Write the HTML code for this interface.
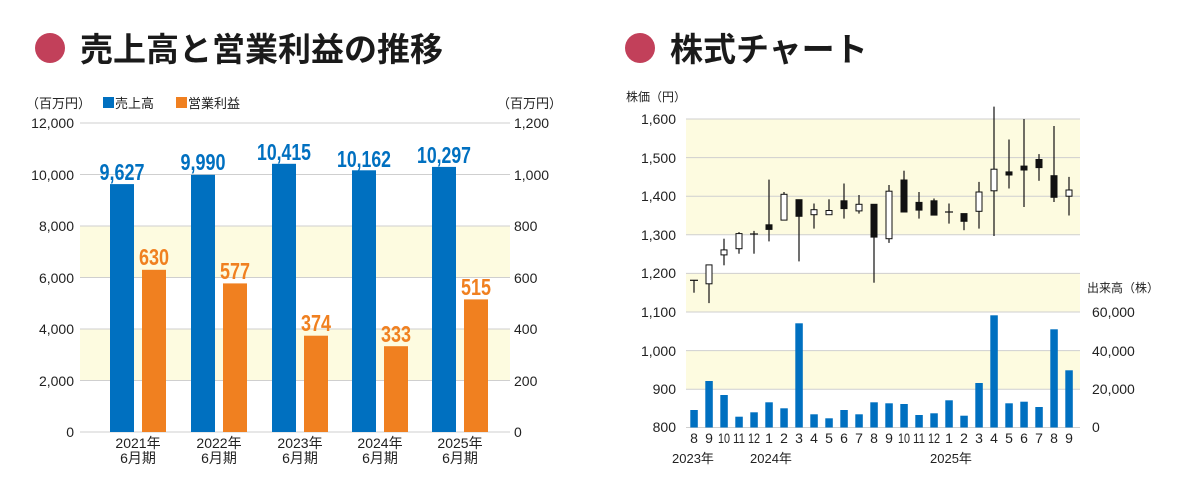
<!DOCTYPE html>
<html><head><meta charset="utf-8"><style>
html,body{margin:0;padding:0;background:#fff;}
svg{display:block;font-family:"Liberation Sans","Noto Sans CJK JP",sans-serif;}
</style></head><body>
<svg width="1200" height="498" viewBox="0 0 1200 498" xmlns="http://www.w3.org/2000/svg">
<!-- Titles -->
<circle cx="50" cy="48" r="15" fill="#c2405a"/>
<text x="80" y="61" font-size="33" font-weight="bold" fill="#1a1a1a">売上高と営業利益の推移</text>
<circle cx="640" cy="48" r="15" fill="#c2405a"/>
<text x="670" y="61" font-size="33" font-weight="bold" fill="#1a1a1a">株式チャート</text>

<!-- LEFT CHART -->
<rect x="80" y="226" width="430" height="51" fill="#fdfbe0"/>
<rect x="80" y="329" width="430" height="51" fill="#fdfbe0"/>
<g stroke="#cfcfcf" stroke-width="1">
<line x1="80" y1="123" x2="510" y2="123"/><line x1="80" y1="174.5" x2="510" y2="174.5"/>
<line x1="80" y1="226" x2="510" y2="226"/><line x1="80" y1="277.5" x2="510" y2="277.5"/>
<line x1="80" y1="329" x2="510" y2="329"/><line x1="80" y1="380.5" x2="510" y2="380.5"/>
<line x1="80" y1="432" x2="510" y2="432"/>
</g>
<g font-size="14" fill="#222" text-anchor="end">
<text x="74" y="128">12,000</text><text x="74" y="180">10,000</text><text x="74" y="231">8,000</text>
<text x="74" y="283">6,000</text><text x="74" y="334">4,000</text><text x="74" y="386">2,000</text><text x="74" y="437">0</text>
</g>
<g font-size="14" fill="#222">
<text x="514" y="128">1,200</text><text x="514" y="180">1,000</text><text x="514" y="231">800</text>
<text x="514" y="283">600</text><text x="514" y="334">400</text><text x="514" y="386">200</text><text x="514" y="437">0</text>
</g>
<g font-size="13" fill="#222">
<text x="26" y="108">（百万円）</text>
<rect x="103" y="97" width="11" height="11" fill="#0070c0"/><text x="115" y="108">売上高</text>
<rect x="176" y="97" width="11" height="11" fill="#f08020"/><text x="188" y="108">営業利益</text>
<text x="497" y="108">（百万円）</text>
</g>
<g fill="#0070c0">
<rect x="110" y="184.1" width="24" height="247.9"/><rect x="191" y="174.8" width="24" height="257.2"/>
<rect x="272" y="163.8" width="24" height="268.2"/><rect x="352" y="170.3" width="24" height="261.7"/>
<rect x="432" y="166.9" width="24" height="265.1"/>
</g>
<g fill="#f08020">
<rect x="142" y="269.8" width="24" height="162.2"/><rect x="223" y="283.4" width="24" height="148.6"/>
<rect x="304" y="335.7" width="24" height="96.3"/><rect x="384" y="346.2" width="24" height="85.8"/>
<rect x="464" y="299.4" width="24" height="132.6"/>
</g>
<g font-size="23" font-weight="bold" fill="#0070c0" text-anchor="middle">
<text x="122" y="180" textLength="45" lengthAdjust="spacingAndGlyphs">9,627</text>
<text x="203" y="170" textLength="45" lengthAdjust="spacingAndGlyphs">9,990</text>
<text x="284" y="160" textLength="54" lengthAdjust="spacingAndGlyphs">10,415</text>
<text x="364" y="167" textLength="54" lengthAdjust="spacingAndGlyphs">10,162</text>
<text x="444" y="163" textLength="54" lengthAdjust="spacingAndGlyphs">10,297</text>
</g>
<g font-size="23" font-weight="bold" fill="#f08020" text-anchor="middle">
<text x="154" y="265" textLength="30" lengthAdjust="spacingAndGlyphs">630</text>
<text x="235" y="279" textLength="30" lengthAdjust="spacingAndGlyphs">577</text>
<text x="316" y="331" textLength="30" lengthAdjust="spacingAndGlyphs">374</text>
<text x="396" y="342" textLength="30" lengthAdjust="spacingAndGlyphs">333</text>
<text x="476" y="295" textLength="30" lengthAdjust="spacingAndGlyphs">515</text>
</g>
<g font-size="14" fill="#222" text-anchor="middle">
<text x="138" y="448">2021年</text><text x="138" y="463">6月期</text>
<text x="219" y="448">2022年</text><text x="219" y="463">6月期</text>
<text x="300" y="448">2023年</text><text x="300" y="463">6月期</text>
<text x="380" y="448">2024年</text><text x="380" y="463">6月期</text>
<text x="460" y="448">2025年</text><text x="460" y="463">6月期</text>
</g>

<!-- RIGHT CHART -->
<rect x="686" y="119" width="394" height="115.8" fill="#fdfbe0"/>
<rect x="686" y="273.4" width="394" height="38.6" fill="#fdfbe0"/>
<rect x="686" y="350.6" width="394" height="38.6" fill="#fdfbe0"/>
<g stroke="#cfcfcf" stroke-width="1">
<line x1="686" y1="119" x2="1080" y2="119"/><line x1="686" y1="157.6" x2="1080" y2="157.6"/>
<line x1="686" y1="196.2" x2="1080" y2="196.2"/><line x1="686" y1="234.8" x2="1080" y2="234.8"/>
<line x1="686" y1="273.4" x2="1080" y2="273.4"/><line x1="686" y1="312" x2="1080" y2="312"/>
<line x1="686" y1="350.6" x2="1080" y2="350.6"/><line x1="686" y1="389.2" x2="1080" y2="389.2"/>
<line x1="686" y1="427.5" x2="1080" y2="427.5"/>
</g>
<text x="626" y="101" font-size="12" fill="#222">株価（円）</text>
<g font-size="14" fill="#222" text-anchor="end">
<text x="676" y="124">1,600</text><text x="676" y="163">1,500</text><text x="676" y="201">1,400</text>
<text x="676" y="240">1,300</text><text x="676" y="278">1,200</text><text x="676" y="317">1,100</text>
<text x="676" y="356">1,000</text><text x="676" y="394">900</text><text x="676" y="432">800</text>
</g>
<text x="1087" y="292" font-size="12" fill="#222">出来高（株）</text>
<g font-size="14" fill="#222">
<text x="1092" y="317">60,000</text><text x="1092" y="356">40,000</text>
<text x="1092" y="394">20,000</text><text x="1092" y="432">0</text>
</g>
<!-- volume bars -->
<g fill="#0070c0">
<rect x="690.3" y="410" width="7.5" height="17.5"/><rect x="705.3" y="381" width="7.5" height="46.5"/>
<rect x="720.3" y="395" width="7.5" height="32.5"/><rect x="735.3" y="416.7" width="7.5" height="10.8"/>
<rect x="750.3" y="412.3" width="7.5" height="15.2"/><rect x="765.3" y="402.3" width="7.5" height="25.2"/>
<rect x="780.3" y="408.3" width="7.5" height="19.2"/><rect x="795.3" y="323.3" width="7.5" height="104.2"/>
<rect x="810.3" y="414.3" width="7.5" height="13.2"/><rect x="825.3" y="418.3" width="7.5" height="9.2"/>
<rect x="840.3" y="410" width="7.5" height="17.5"/><rect x="855.3" y="414.3" width="7.5" height="13.2"/>
<rect x="870.3" y="402.3" width="7.5" height="25.2"/><rect x="885.3" y="403.3" width="7.5" height="24.2"/>
<rect x="900.3" y="404" width="7.5" height="23.5"/><rect x="915.3" y="415" width="7.5" height="12.5"/>
<rect x="930.3" y="413.3" width="7.5" height="14.2"/><rect x="945.3" y="400.3" width="7.5" height="27.2"/>
<rect x="960.3" y="415.7" width="7.5" height="11.8"/><rect x="975.3" y="383" width="7.5" height="44.5"/>
<rect x="990.3" y="315.3" width="7.5" height="112.2"/><rect x="1005.3" y="403.3" width="7.5" height="24.2"/>
<rect x="1020.3" y="401.7" width="7.5" height="25.8"/><rect x="1035.3" y="407" width="7.5" height="20.5"/>
<rect x="1050.3" y="329.3" width="7.5" height="98.2"/><rect x="1065.3" y="370.3" width="7.5" height="57.2"/>
</g>
<!-- wicks -->
<g stroke="#111" stroke-width="1.2">
<line x1="694" y1="280.3" x2="694" y2="292.7"/><line x1="690" y1="280.3" x2="698" y2="280.3"/>
<line x1="709" y1="264.9" x2="709" y2="303.1"/>
<line x1="724" y1="238.7" x2="724" y2="265.3"/>
<line x1="739" y1="232.1" x2="739" y2="253.7"/>
<line x1="754" y1="230.9" x2="754" y2="253.7"/><line x1="750" y1="234" x2="758" y2="234"/>
<line x1="769" y1="179.6" x2="769" y2="241.4"/>
<line x1="784" y1="192" x2="784" y2="220.1"/>
<line x1="799" y1="199.7" x2="799" y2="261.4"/>
<line x1="814" y1="203.5" x2="814" y2="228.6"/>
<line x1="829" y1="199.3" x2="829" y2="214.7"/>
<line x1="844" y1="183.5" x2="844" y2="218.6"/>
<line x1="859" y1="195" x2="859" y2="213.6"/>
<line x1="874" y1="204.3" x2="874" y2="282.7"/>
<line x1="889" y1="185" x2="889" y2="242.9"/>
<line x1="904" y1="170.7" x2="904" y2="212"/>
<line x1="919" y1="192" x2="919" y2="218.6"/>
<line x1="934" y1="198.5" x2="934" y2="215.1"/>
<line x1="949" y1="203.5" x2="949" y2="223.6"/><line x1="945" y1="212" x2="953" y2="212"/>
<line x1="964" y1="213.6" x2="964" y2="230.2"/>
<line x1="979" y1="181.9" x2="979" y2="228.6"/>
<line x1="994" y1="106.6" x2="994" y2="236"/>
<line x1="1009" y1="139.5" x2="1009" y2="188.5"/>
<line x1="1024" y1="119" x2="1024" y2="207"/>
<line x1="1039" y1="154.1" x2="1039" y2="180.8"/>
<line x1="1054" y1="126" x2="1054" y2="202"/>
<line x1="1069" y1="176.9" x2="1069" y2="215.5"/>
</g>
<!-- bodies -->
<g stroke="#111" stroke-width="1">
<rect x="706" y="264.9" width="6" height="18.9" fill="#fff"/>
<rect x="721" y="249.9" width="6" height="5" fill="#fff"/>
<rect x="736" y="233.6" width="6" height="15.1" fill="#fff"/>
<rect x="766" y="224.8" width="6" height="4.6" fill="#111"/>
<rect x="781" y="194.3" width="6" height="25.8" fill="#fff"/>
<rect x="796" y="199.7" width="6" height="16.6" fill="#111"/>
<rect x="811" y="209.7" width="6" height="5" fill="#fff"/>
<rect x="826" y="210.5" width="6" height="4.2" fill="#fff"/>
<rect x="841" y="200.8" width="6" height="7.8" fill="#111"/>
<rect x="856" y="204.3" width="6" height="6.6" fill="#fff"/>
<rect x="871" y="204.3" width="6" height="32.8" fill="#111"/>
<rect x="886" y="191.2" width="6" height="47.5" fill="#fff"/>
<rect x="901" y="180" width="6" height="32" fill="#111"/>
<rect x="916" y="202.4" width="6" height="7.7" fill="#111"/>
<rect x="931" y="200.8" width="6" height="14.3" fill="#111"/>
<rect x="961" y="213.6" width="6" height="7.7" fill="#111"/>
<rect x="976" y="192" width="6" height="19.3" fill="#fff"/>
<rect x="991" y="169.2" width="6" height="21.6" fill="#fff"/>
<rect x="1006" y="171.9" width="6" height="3.1" fill="#111"/>
<rect x="1021" y="166.1" width="6" height="3.9" fill="#111"/>
<rect x="1036" y="159.5" width="6" height="8.1" fill="#111"/>
<rect x="1051" y="175.7" width="6" height="21.6" fill="#111"/>
<rect x="1066" y="190" width="6" height="6.2" fill="#fff"/>
</g>
<!-- month labels -->
<g font-size="14" fill="#222" text-anchor="middle">
<text x="694" y="443">8</text><text x="709" y="443">9</text><text x="724" y="443" textLength="12" lengthAdjust="spacingAndGlyphs">10</text><text x="739" y="443" textLength="12" lengthAdjust="spacingAndGlyphs">11</text>
<text x="754" y="443" textLength="12" lengthAdjust="spacingAndGlyphs">12</text><text x="769" y="443">1</text><text x="784" y="443">2</text><text x="799" y="443">3</text>
<text x="814" y="443">4</text><text x="829" y="443">5</text><text x="844" y="443">6</text><text x="859" y="443">7</text>
<text x="874" y="443">8</text><text x="889" y="443">9</text><text x="904" y="443" textLength="12" lengthAdjust="spacingAndGlyphs">10</text><text x="919" y="443" textLength="12" lengthAdjust="spacingAndGlyphs">11</text>
<text x="934" y="443" textLength="12" lengthAdjust="spacingAndGlyphs">12</text><text x="949" y="443">1</text><text x="964" y="443">2</text><text x="979" y="443">3</text>
<text x="994" y="443">4</text><text x="1009" y="443">5</text><text x="1024" y="443">6</text><text x="1039" y="443">7</text>
<text x="1054" y="443">8</text><text x="1069" y="443">9</text>
</g>
<g font-size="13" fill="#222">
<text x="672" y="463">2023年</text><text x="750" y="463">2024年</text><text x="930" y="463">2025年</text>
</g>
</svg>
</body></html>
